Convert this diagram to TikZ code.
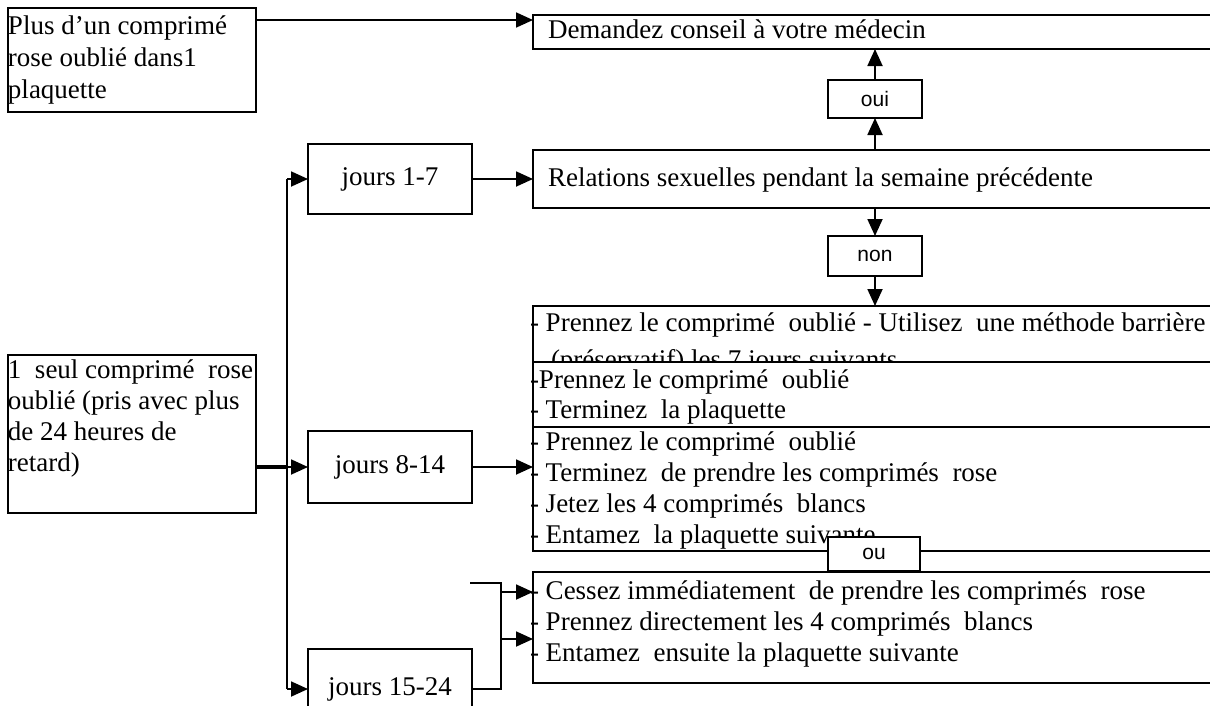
\documentclass[tikz,border=0pt]{standalone}
\usepackage{fontspec}
\setmainfont{Liberation Serif}
\newfontfamily\sansf{Liberation Sans}
\usetikzlibrary{arrows.meta}
\newcommand\mlines[2]{\vtop{\baselineskip=#1\lineskiplimit=-100pt\lineskip=0pt #2}}
\begin{document}
\begin{tikzpicture}[x=1pt,y=-1pt,
  box/.style={draw=black, line width=1.8pt, fill=white, anchor=north west, inner sep=0pt, outer sep=0pt, font=\fontsize{27}{31}\selectfont},
  txt/.style={anchor=base west, inner sep=0pt, outer sep=0pt, font=\fontsize{27}{31}\selectfont},
  lbl/.style={font=\sansf\fontsize{21}{24}\selectfont},
  ln/.style={line width=1.8pt},
  arr/.style={line width=1.8pt, -{Triangle[length=17pt,width=15pt]}},
  thk/.style={line width=4pt}]
\useasboundingbox (0,0) rectangle (1210,705);
\fill[white] (0,0) rectangle (1210,705);
\clip (0,0) rectangle (1210,705);

% left boxes
\node[box, minimum width=248pt, minimum height=104pt] (A) at (8,8) {};
\node[txt] (At) at (8,34) {\mlines{32pt}{\hbox{Plus d’un comprimé}\hbox{rose oublié dans1}\hbox{plaquette}}};
\node[box, minimum width=248pt, minimum height=158pt] (seul) at (8,355) {};
\node[txt] (seult) at (8,378) {\mlines{31pt}{\hbox{1\ \ seul comprimé\ \ rose}\hbox{oublié (pris avec plus}\hbox{de 24 heures de}\hbox{retard)}}};

% jours boxes
\node[box, minimum width=164pt, minimum height=70pt] (j1) at (308,144) {jours 1-7};
\node[box, minimum width=164pt, minimum height=72pt] (j2) at (308,431) {jours 8-14};
\node[box, minimum width=164pt, minimum height=80pt] (j3) at (308,649) {jours 15-24};

% right boxes
\node[box, minimum width=690pt, minimum height=34pt] (dem) at (533,15) {};
\node[txt] (demt) at (548,38) {Demandez conseil à votre médecin};
\node[box, minimum width=690pt, minimum height=58pt] (rel) at (533,150) {};
\node[txt] (relt) at (548,186) {Relations sexuelles pendant la semaine précédente};
\node[box, minimum width=94pt, minimum height=38pt, lbl] (oui) at (828,80) {oui};
\node[box, minimum width=94pt, minimum height=40pt, lbl] (non) at (828,236) {non};

\node[box, minimum width=690pt, minimum height=56pt] (b1) at (533,306) {};
\node[txt] (b1t) at (530,331) {- Prennez le comprimé\ \ oublié - Utilisez\ \ une méthode barrière};
\node[txt] (b1u) at (551,368) {(préservatif) les 7 jours suivants};
\node[box, minimum width=690pt, minimum height=65pt] (b2) at (533,362) {};
\node[txt] (b2t) at (530,388) {\mlines{30pt}{\hbox{-Prennez le comprimé\ \ oublié}\hbox{- Terminez\ \ la plaquette}}};
\node[box, minimum width=690pt, minimum height=124pt] (b3) at (533,427) {};
\node[txt] (b3t) at (530,450) {\mlines{31pt}{\hbox{- Prennez le comprimé\ \ oublié}\hbox{- Terminez\ \ de prendre les comprimés\ \ rose}\hbox{- Jetez les 4 comprimés\ \ blancs}\hbox{- Entamez\ \ la plaquette suivante}}};
\node[box, minimum width=92pt, minimum height=34pt, lbl] (ou) at (828,537) {ou};
\node[box, minimum width=690pt, minimum height=111pt] (ces) at (533,572) {};
\node[txt] (cest) at (530,599) {\mlines{31pt}{\hbox{- Cessez immédiatement\ \ de prendre les comprimés\ \ rose}\hbox{- Prennez directement les 4 comprimés\ \ blancs}\hbox{- Entamez\ \ ensuite la plaquette suivante}}};

% connectors
\coordinate (aY) at (0,20);
\draw[arr] (A.east |- aY) -- (dem.west |- aY);
\draw[arr] (rel.north -| oui) -- (oui.south);
\draw[arr] (oui.north) -- (oui.north |- dem.south);
\draw[arr] (rel.south -| non) -- (non.north);
\draw[arr] (non.south) -- (non.south |- b1.north);

\coordinate (bx) at (287,0);
\draw[ln] (bx |- j1.west) -- (bx |- j3.west);
\draw[arr] (bx |- j1.west) -- (j1.west);
\draw[arr] (bx |- j2.west) -- (j2.west);
\draw[arr] (bx |- j3.west) -- (j3.west);
\draw[thk] (seul.east |- j2.west) -- (bx |- j2.west);

\draw[arr] (j1.east) -- (j1.east -| rel.west);
\draw[arr] (j2.east) -- (j2.east -| b3.west);

\coordinate (fx) at (501,0);
\coordinate (stub) at (470,583);
\coordinate (fa) at (501,592);
\coordinate (fb) at (501,639);
\draw[ln] (j3.east) -- (j3.east -| fx) -- (fx |- stub) -- (stub);
\draw[arr] (fa) -- (fa -| ces.west);
\draw[arr] (fb) -- (fb -| ces.west);
\end{tikzpicture}
\end{document}
